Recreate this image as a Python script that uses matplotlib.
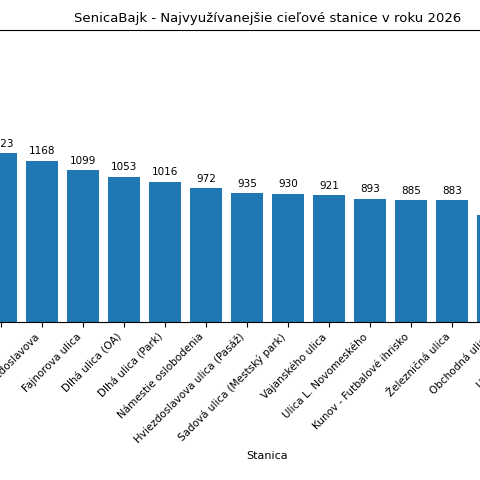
import numpy as np
from matplotlib import pyplot as plt

stations = ['Autobusová stanica', 'Námestie slobody', 'Ulica Hviezdoslavova', 'Fajnorova ulica',
            'Dlhá ulica (OA)', 'Dlhá ulica (Park)', 'Námestie oslobodenia',
            'Hviezdoslavova ulica (Pasáž)', 'Sadová ulica (Mestský park)', 'Vajanského ulica',
            'Ulica L. Novomeského', 'Kunov - Futbalové ihrisko', 'Železničná ulica',
            'Obchodná ulica', 'Ulica Sotinská', 'Ulica Robotnícka']
counts = [2013, 1223, 1168, 1099, 1053, 1016, 972, 935, 930, 921, 893, 885, 883, 775, 740, 710]

W, H = 480, 480
fig = plt.figure(figsize=(W / 100, H / 100), dpi=100)

# visible region is a crop of a wider chart: place axes so bars land at the same pixels
unit = 41.0
x_idx0 = 42 - 2 * unit
n = len(counts)
xmin, xmax = -0.4 - 0.05 * (n - 0.2), n - 0.6 + 0.05 * (n - 0.2)
left_px = x_idx0 + xmin * unit
width_px = (xmax - xmin) * unit
bottom_px, top_px = 322, 30
ax = fig.add_axes([left_px / W, (H - bottom_px) / H, width_px / W, (bottom_px - top_px) / H])

x = np.arange(n)
bars = ax.bar(x, counts, color='#1f77b4')
ax.bar_label(bars, fontsize=7.5, padding=3)
ax.set_xlim(xmin, xmax)
ax.set_ylim(0, max(counts) * 1.05)
ax.set_xticks(x)
ax.set_xticklabels(stations, rotation=45, ha='right', fontsize=7.5)
ax.set_xlabel('Stanica', fontsize=8)
ax.set_ylabel('Počet jázd', fontsize=8)
ax.set_title('SenicaBajk - Najvyužívanejšie cieľové stanice v roku 2026', fontsize=9.5)

fig.savefig('out.png', dpi=100)
